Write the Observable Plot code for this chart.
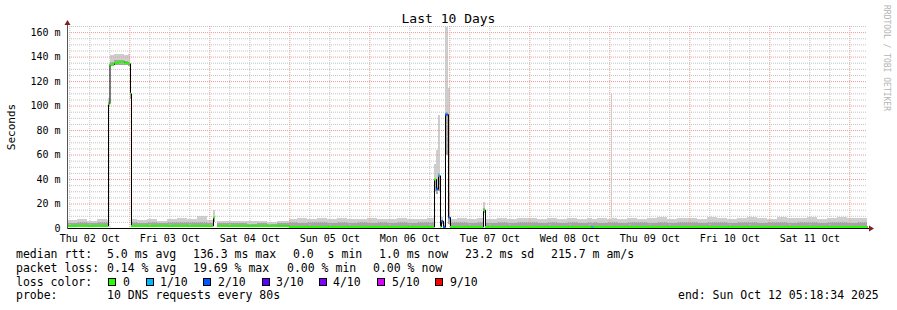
<!DOCTYPE html>
<html><head><meta charset="utf-8">
<script src="https://cdn.jsdelivr.net/npm/d3@7"></script>
<script src="https://cdn.jsdelivr.net/npm/@observablehq/plot@0.6"></script>
<style>
body{margin:0;background:#fff;}
#wrap{position:relative;width:897px;height:310px;font-family:"DejaVu Sans Mono",monospace;color:#000;overflow:hidden;background:#fff;}
#wrap svg{position:absolute;left:0;top:0;}
.t{position:absolute;white-space:pre;font-size:11.5px;line-height:14px;}
.sq{position:absolute;width:8px;height:8px;box-sizing:border-box;border:1px solid #000;}
#title{position:absolute;left:0;width:897px;text-align:center;top:11px;font-size:13px;line-height:16px;}
#ylab{position:absolute;left:11px;top:127px;font-size:11px;transform:translate(-50%,-50%) rotate(-90deg);white-space:pre;}
#wm{position:absolute;left:886px;top:5px;font-size:8px;color:#b4b4b4;transform-origin:0 0;transform:translate(4px,0) rotate(90deg);white-space:pre;line-height:8px;}
</style></head><body><div id="wrap"></div>
<script>
// ---------------- data ----------------
const startTime = "2025-10-02T05:18:34Z";
const endTime   = "2025-10-12T05:18:34Z";
const titleText = "Last 10 Days";
const yTitle = "Seconds";

// sample start (hours after startTime); each sample lasts until the next one
const sampleHours = [0,3,6,9,12,12.3,12.75,14.1,15.6,17.1,18.3,18.9,19.2,21,24,27,30,33,36,39,42,43.8,44.4,45,48,51,54,57,60,63,
  66.6,69,72,75,78,81,84,87,90,93,96,99,102,105,108,110.1,110.7,111.3,111.9,112.2,112.8,113.4,114.3,114.9,117,120,123,124.8,125.4,
  129,132,135,138,141,144,147,150,153,156,157.4,157.9,159,162,163.2,163.5,165,168,171,174,177,180,183,186,189,192,195,198,201,204,
  207,210,213,216,219,222,225,228,231,234,237];
// median rtt (ms)
const medianMs = [2.0,2.2,2.0,2.1,2.0,102,134,135.5,136,135,134.5,110,2.0,2.1,2.0,2.2,2.0,2.1,2.0,2.0,2.1,9,null,2.0,2.0,2.0,1.9,2.0,2.0,1.9,
  1.2,1.2,1.2,1.3,1.2,1.2,1.2,1.3,1.2,1.2,1.2,1.3,1.2,1.2,1.2,40,32,43,1.5,6,1.0,93,9,1.2,1.2,1.2,1.2,15,1.2,
  1.2,1.2,1.2,1.3,1.2,1.2,1.2,1.2,1.2,1.2,1.2,1.2,1.2,1.2,1.5,1.2,1.2,1.2,1.2,1.3,1.2,1.2,1.2,1.2,1.3,1.2,1.2,1.2,1.2,
  1.2,1.3,1.2,1.2,1.2,1.2,1.3,1.2,1.2,1.2,1.2,1.2];
// smoke: fastest ping, inner band top, slowest ping (ms)
const smokeLoMs = [1.5,1.6,1.5,1.5,1.5,99,132,133,133,133,132,105,1.5,1.6,1.5,1.5,1.5,1.6,1.5,1.5,1.5,5,null,1.5,1.5,1.5,1.5,1.5,1.5,1.4,
  1.0,1.0,1.0,1.0,1.0,1.0,1.0,1.0,1.0,1.0,1.0,1.0,1.0,1.0,1.0,30,28,30,1.0,3,0.8,60,3,1.0,1.0,1.0,1.0,12,1.0,
  1.0,1.0,1.0,1.0,1.0,1.0,1.0,1.0,1.0,1.0,1.0,1.0,1.0,1.0,1.0,1.0,1.0,1.0,1.0,1.0,1.0,1.0,1.0,1.0,1.0,1.0,1.0,1.0,1.0,
  1.0,1.0,1.0,1.0,1.0,1.0,1.0,1.0,1.0,1.0,1.0,1.0];
const smokeMidMs = [4.0,4.5,3.8,4.8,4.2,103,136,137,137.5,136.5,136,112,4.5,4.0,4.5,4.0,4.5,5.0,4.5,4.5,4.0,8,null,4.0,3.8,4.0,3.5,4.0,3.5,3.8,
  4.5,4.0,4.5,5.0,4.0,4.5,4.0,4.5,4.0,4.5,4.0,4.5,4.0,4.5,5.0,38,34,45,4.0,6,2.5,95,30,4.5,4.5,4.0,4.5,16,4.0,
  4.5,4.0,4.5,5.0,4.0,4.5,4.0,4.5,4.0,4.5,4.0,4.5,4.0,4.5,4.0,4.5,4.0,4.5,5.0,4.0,4.5,4.0,5.0,4.5,4.0,5.0,4.5,4.0,4.5,
  5.0,4.0,4.5,5.0,4.0,4.5,5.0,4.0,4.5,5.0,4.0,4.5];
const smokeHiMs = [6.5,7.0,6.0,7.5,6.5,106,141,142,142.5,141,142,116,7.0,6.5,7.5,6.0,7.5,8.0,7.0,9.5,6.5,15,null,6.0,5.5,6.0,5.5,6.0,5.0,5.5,
  7.5,8.0,7.0,8.5,7.5,8.0,7.0,7.5,8.0,7.0,7.5,8.0,7.0,7.5,8.5,52,64,92,7.0,9,5,164,114,7.5,8.0,7.5,8.0,21,7.5,
  8.0,7.0,8.0,8.5,7.5,8.0,7.0,8.5,7.5,8.0,7.0,7.5,8.0,7.5,110,8.0,7.0,8.5,7.5,8.0,9.0,7.5,8.5,8.0,7.5,9.0,8.0,7.5,8.5,
  9.0,8.0,7.5,9.0,8.5,8.0,9.0,7.5,8.5,9.0,8.0,8.5];
// lost pings out of 10
const lossCount = [0,0,0,0,0,0,0,0,0,0,0,0,0,0,0,0,0,0,0,0,0,0,null,0,0,0,0,0,0,0,
  0,0,0,0,0,0,0,0,0,0,0,0,0,0,0,0,2,1,0,2,2,2,2,0,0,0,0,0,0,
  0,0,0,0,0,0,0,0,0,0,1,0,0,0,0,0,0,0,0,0,0,0,0,0,0,0,0,0,0,
  0,0,0,0,0,0,0,0,0,0,0,0];

const lossLevels = [0,1,2,3,4,5,9];
const lossLabels = ["0","1/10","2/10","3/10","4/10","5/10","9/10"];
const lossColors = ["#26ff00","#00b8ff","#0059ff","#5e00ff","#7e00ff","#dd00ff","#ff0000"];

const yTicks = [0,20,40,60,80,100,120,140,160];
const dayTicks = ["2025-10-02T12:00:00Z","2025-10-03T12:00:00Z","2025-10-04T12:00:00Z","2025-10-05T12:00:00Z","2025-10-06T12:00:00Z",
  "2025-10-07T12:00:00Z","2025-10-08T12:00:00Z","2025-10-09T12:00:00Z","2025-10-10T12:00:00Z","2025-10-11T12:00:00Z"];

const rttLabel = "median rtt:";
const rttStats = ["5.0 ms avg","136.3 ms max","0.0  s min","1.0 ms now","23.2 ms sd","215.7 m am/s"];
const lossLabel = "packet loss:";
const lossStats = ["0.14 % avg","19.69 % max","0.00 % min","0.00 % now"];
const colorLabel = "loss color:";
const probeLabel = "probe:";
const probeText = "10 DNS requests every 80s";
const endText = "end: Sun Oct 12 05:18:34 2025";
const watermark = "RRDTOOL / TOBI OETIKER";

// ---------------- build ----------------
const startDate = new Date(startTime), endDate = new Date(endTime);
const H = 3600e3;
const rows = sampleHours.map((h, i) => ({
  t: new Date(+startDate + h * H),
  t2: new Date(+startDate + (i + 1 < sampleHours.length ? sampleHours[i + 1] : 240) * H),
  med: medianMs[i], lo: smokeLoMs[i], mid: smokeMidMs[i], hi: smokeHiMs[i], loss: lossCount[i]
}));
const valid = rows.filter(d => d.med != null);
const lossColor = n => { let c = lossColors[0]; lossLevels.forEach((l, k) => { if (n >= l) c = lossColors[k]; }); return c; };
const lineData = rows.map(d => ({t: d.t, med: d.med == null ? NaN : d.med}));
lineData.push({t: endDate, med: rows[rows.length - 1].med});

const minorY = d3.range(5, 166, 5).filter(v => v % 20 !== 0);
const majorY = yTicks.filter(v => v > 0);
const sixHours = d3.utcHour.every(6).range(startDate, endDate).filter(d => d.getUTCHours() !== 0);
const midnights = d3.utcDay.range(startDate, endDate);
const fmtDay = d3.utcFormat("%a %d %b");

const chart = Plot.plot({
  width: 897, height: 245,
  marginLeft: 67, marginRight: 30, marginTop: 26, marginBottom: 17,
  style: {fontFamily: "'DejaVu Sans Mono', monospace", fontSize: "10px", background: "transparent", color: "#000"},
  x: {type: "utc", domain: [startDate, endDate]},
  y: {domain: [0, 165]},
  marks: [
    Plot.rect(valid, {x1: "t", x2: "t2", y1: "lo", y2: "hi", fill: "#cecece", shapeRendering: "crispEdges"}),
    Plot.rect(valid, {x1: "t", x2: "t2", y1: "lo", y2: "mid", fill: "#a4a4a4", shapeRendering: "crispEdges"}),
    Plot.ruleY(minorY, {stroke: "#c4c4c4", strokeDasharray: "1,1"}),
    Plot.ruleX(sixHours, {stroke: "#c4c4c4", strokeDasharray: "1,1"}),
    Plot.ruleY(majorY, {stroke: "#eb9a9a", strokeDasharray: "1,1"}),
    Plot.ruleX(midnights, {stroke: "#eb9a9a", strokeDasharray: "1,1"}),
    Plot.line(lineData, {x: "t", y: "med", curve: "step-after", stroke: "#000", strokeWidth: 1}),
    Plot.ruleY(valid, {y: "med", x1: "t", x2: "t2", stroke: d => lossColor(d.loss), strokeWidth: 2}),
    Plot.axisX(dayTicks.map(d => new Date(d)), {tickSize: 0, tickPadding: 6, tickFormat: fmtDay, label: null, fontSize: 10}),
    Plot.axisY(yTicks, {tickSize: 0, tickPadding: 7, tickFormat: d => d === 0 ? "0" : d + " m", label: null, fontSize: 10})
  ]
});

const wrap = document.getElementById("wrap");
wrap.appendChild(chart);

// axis lines and arrows, positioned from the scales
const sx = chart.scale("x"), sy = chart.scale("y");
const x0 = Math.round(sx.apply(startDate)) + 0.5, x1 = Math.round(sx.apply(endDate));
const y0 = Math.round(sy.apply(0)) + 0.5, yTop = Math.round(sy.apply(165));
const svg = d3.select(chart);
svg.append("line").attr("x1", x0).attr("x2", x0).attr("y1", y0).attr("y2", yTop - 3).attr("stroke", "#555");
svg.append("line").attr("x1", x0).attr("x2", x1 + 3).attr("y1", y0).attr("y2", y0).attr("stroke", "#000");
svg.append("path").attr("d", `M${x0},${yTop - 6}L${x0 - 3},${yTop - 1}L${x0 + 3},${yTop - 1}Z`).attr("fill", "#801f1f");
svg.append("path").attr("d", `M${x1 + 7},${y0}L${x1 + 2},${y0 - 3}L${x1 + 2},${y0 + 3}Z`).attr("fill", "#801f1f");

// title, y title, watermark
const el = (cls, txt, x, y) => { const d = document.createElement("div"); d.className = cls; d.textContent = txt; if (x != null) { d.style.left = x + "px"; d.style.top = y + "px"; } wrap.appendChild(d); return d; };
el("", titleText).id = "title";
el("", yTitle).id = "ylab";
el("", watermark).id = "wm";

// legend
const L1 = 247, L2 = 261, L3 = 274.5, L4 = 288;
el("t", rttLabel, 16, L1);
[107, 193, 293, 379, 465, 551].forEach((x, i) => el("t", rttStats[i], x, L1));
el("t", lossLabel, 16, L2);
[107, 193, 287, 373].forEach((x, i) => el("t", lossStats[i], x, L2));
el("t", colorLabel, 16, L3);
const sqX = [108, 146, 203, 262, 319, 377, 435], lbX = [123, 160, 218, 276, 333, 392, 450];
lossLabels.forEach((lab, i) => {
  const s = el("sq", "", sqX[i], 278); s.style.background = lossColors[i];
  el("t", lab, lbX[i], L3);
});
el("t", probeLabel, 16, L4);
el("t", probeText, 107, L4);
el("t", endText, 678, L4);
</script></body></html>
